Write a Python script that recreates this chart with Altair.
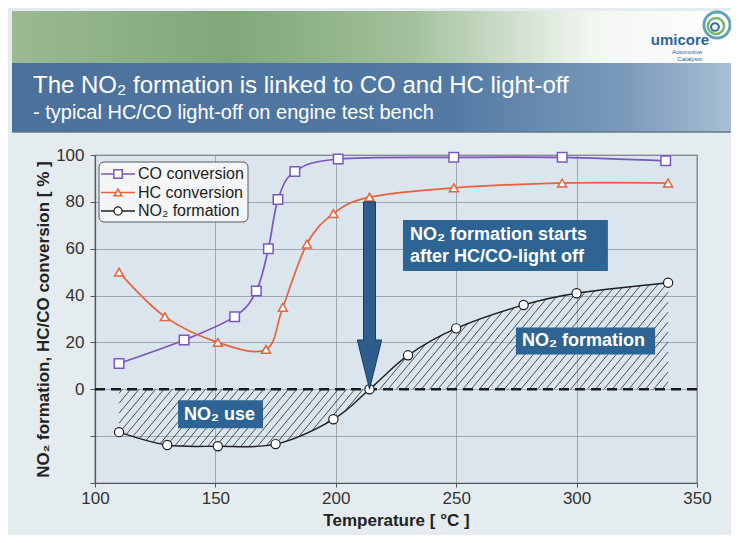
import numpy as np
import pandas as pd
import altair as alt

# ---------------- data ----------------
temp_co = [110, 137, 158, 167, 172, 176, 183, 201, 249, 294, 337]
co_conversion = [11, 21, 31, 42, 60, 81, 93, 98.3, 99, 99, 97.5]

temp_hc = [110, 129, 151, 171, 178, 188, 199, 214, 249, 294, 338]
hc_conversion = [50, 31, 20, 17, 35, 62, 75, 82, 86, 88, 88]

temp_no2 = [110, 130, 151, 175, 199, 214, 230, 250, 278, 300, 338]
no2_formation = [-18.3, -23.8, -24.3, -23.4, -12.8, 0, 14.5, 26, 36, 41, 45.5]

x_ticks = [100, 150, 200, 250, 300, 350]
y_ticks = [-40, -20, 0, 20, 40, 60, 80, 100]

legend_labels = ["CO conversion", "HC conversion", "NO₂ formation"]
title_text = "The NO₂ formation is linked to CO and HC light-off"
subtitle_text = "- typical HC/CO light-off on engine test bench"
x_title = "Temperature [ °C ]"
y_title = "NO₂ formation, HC/CO conversion [ % ]"

# ---------------- styling / layout ----------------
FONT = "Liberation Sans"
CO_C = "#7b57bd"
HC_C = "#e8623a"
NO2_C = "#1e1e1e"
BOX_C = "#2d6493"
W, H = 602, 328

one = pd.DataFrame({"k": [0]})

xs_scale = alt.Scale(domain=[x_ticks[0], x_ticks[-1]], nice=False, zero=False)
ys_scale = alt.Scale(domain=[y_ticks[0], y_ticks[-1]], nice=False, zero=False)
x_axis = alt.Axis(values=x_ticks, title=x_title, grid=True, gridColor="#8e98a2", gridWidth=0.8,
                  domainColor="#555", domainWidth=1.2, tickColor="#555", tickSize=4,
                  labelFont=FONT, labelFontSize=17, labelColor="#333", labelPadding=3,
                  labelFlush=False, labelOverlap=False, titleFont=FONT, titleFontSize=17,
                  titleFontWeight="bold", titleColor="#222", titlePadding=6)
y_axis = alt.Axis(values=y_ticks, title=y_title, grid=True, gridColor="#8e98a2", gridWidth=0.8,
                  domainColor="#555", domainWidth=1.2, tickColor="#555", tickSize=5,
                  labelExpr="datum.value >= 0 ? datum.label : ''",
                  labelFont=FONT, labelFontSize=17, labelColor="#333", labelPadding=6,
                  labelFlush=False, labelOverlap=False, titleFont=FONT, titleFontSize=17,
                  titleFontWeight="bold", titleColor="#222", titlePadding=3)


def X(f):
    return alt.X(f, type="quantitative", scale=xs_scale, axis=x_axis)


def Y(f):
    return alt.Y(f, type="quantitative", scale=ys_scale, axis=y_axis)


# ---------------- hatch between the NO2 curve and zero ----------------
def cardinal_curve(xs, ys, steps=60):
    P = np.column_stack([xs, ys]).astype(float)
    m = len(P)
    pts = [P[0]]
    t = np.linspace(0, 1, steps)[1:, None]
    for i in range(m - 1):
        a, b = P[i], P[i + 1]
        c1 = a + (b - P[i - 1]) / 6 if i > 0 else a
        c2 = b - (P[i + 2] - a) / 6 if i + 2 < m else b
        seg = (1 - t) ** 3 * a + 3 * (1 - t) ** 2 * t * c1 + 3 * (1 - t) * t ** 2 * c2 + t ** 3 * b
        pts.extend(seg)
    pts = np.array(pts)
    return pts[:, 0], pts[:, 1]


cx, cy = cardinal_curve(temp_no2, no2_formation)
px_x = W / (x_ticks[-1] - x_ticks[0])
px_y = H / (y_ticks[-1] - y_ticks[0])
slope = 1.2 * px_x / px_y
step = 8.3 / px_x
xl, xr = temp_no2[0], temp_no2[-1]
xc = temp_no2[no2_formation.index(0)]
rows = []
for x0 in np.arange(xl + step * 0.4, xr, step):
    if x0 < xc:
        xs = np.linspace(x0, xl, 800)
        d = slope * (xs - x0) - np.interp(xs, cx, cy)
    else:
        xs = np.linspace(x0, xr, 800)
        d = np.interp(xs, cx, cy) - slope * (xs - x0)
    idx = np.where(d <= 0)[0]
    idx = idx[idx > 0]
    if len(idx):
        k = idx[0]
        tt = d[k - 1] / (d[k - 1] - d[k])
        xe = xs[k - 1] + tt * (xs[k] - xs[k - 1])
    else:
        xe = xs[-1]
    rows.append({"hx": x0, "hy": 0.0, "hx2": xe, "hy2": slope * (xe - x0)})
hatch_df = pd.DataFrame(rows)

hatch = alt.Chart(hatch_df).mark_rule(color="#2a2a2a", strokeWidth=0.8).encode(
    x=X("hx"), y=Y("hy"), x2=alt.X2("hx2"), y2=alt.Y2("hy2"))

zero_line = alt.Chart(pd.DataFrame({"z": [0]})).mark_rule(
    color="#1a1a1a", strokeWidth=2.6, strokeDash=[10, 6]).encode(y=Y("z"))

# ---------------- series ----------------
co_df = pd.DataFrame({"t": temp_co, "v": co_conversion})
hc_df = pd.DataFrame({"t": temp_hc, "v": hc_conversion})
no2_df = pd.DataFrame({"t": temp_no2, "v": no2_formation})

co_line = alt.Chart(co_df).mark_line(color=CO_C, strokeWidth=1.7, interpolate="cardinal").encode(x=X("t"), y=Y("v"))
hc_line = alt.Chart(hc_df).mark_line(color=HC_C, strokeWidth=1.7, interpolate="cardinal").encode(x=X("t"), y=Y("v"))
no2_line = alt.Chart(no2_df).mark_line(color=NO2_C, strokeWidth=1.4, interpolate="cardinal").encode(x=X("t"), y=Y("v"))

co_pts = alt.Chart(co_df).mark_point(shape="square", size=90, filled=True, fill="white", stroke=CO_C,
                                     strokeWidth=1.5, opacity=1).encode(x=X("t"), y=Y("v"))
hc_pts = alt.Chart(hc_df).mark_point(shape="triangle-up", size=80, filled=True, fill="white", stroke=HC_C,
                                     strokeWidth=1.5, opacity=1).encode(x=X("t"), y=Y("v"))
no2_pts = alt.Chart(no2_df).mark_point(shape="circle", size=85, filled=True, fill="white", stroke=NO2_C,
                                       strokeWidth=1.2, opacity=1).encode(x=X("t"), y=Y("v"))

# ---------------- arrow and annotation boxes ----------------
arrow = alt.Chart(pd.DataFrame({"t": [214], "v": [40]})).mark_point(
    shape="M-0.064,-1L0.064,-1L0.064,0.474L0.13,0.474L0,1L-0.13,0.474L-0.064,0.474Z",
    size=35120, filled=True, fill="#2c5d8c", stroke="#1b3d60", strokeWidth=1, opacity=1
).encode(x=X("t"), y=Y("v"))

box_df = pd.DataFrame({"bx": [227.9, 274.8, 134.5], "bx2": [313.0, 332.6, 169.8],
                       "by": [72.3, 26.4, -4.7], "by2": [50.5, 14.9, -16.6]})
boxes = alt.Chart(box_df).mark_rect(fill=BOX_C, opacity=1).encode(
    x=X("bx"), x2=alt.X2("bx2"), y=Y("by"), y2=alt.Y2("by2"))

ann_df = pd.DataFrame({"tx": [230.8, 230.8, 277.3, 137.0], "ty": [65.9, 56.6, 20.4, -10.9],
                       "label": ["NO₂ formation starts", "after HC/CO-light off", "NO₂ formation", "NO₂ use"]})
ann_text = alt.Chart(ann_df).mark_text(align="left", baseline="middle", font=FONT, fontSize=18,
                                       fontWeight="bold", color="white").encode(
    x=X("tx"), y=Y("ty"), text="label:N")

# ---------------- legend (drawn) ----------------
leg = [alt.Chart(one).mark_rect(fill="#f4f6f8", stroke="#555", strokeWidth=1, cornerRadius=5, opacity=0.97).encode(
    x=alt.value(4), x2=alt.value(153), y=alt.value(7), y2=alt.value(67))]
leg_specs = [(CO_C, "square", 70, 1.5), (HC_C, "triangle-up", 60, 1.5), (NO2_C, "circle", 65, 1.2)]
for i, (lab, (c, shp, sz, sw)) in enumerate(zip(legend_labels, leg_specs)):
    yy = 19 + i * 18.5
    leg.append(alt.Chart(one).mark_rule(color=c, strokeWidth=1.6).encode(
        x=alt.value(6), x2=alt.value(40), y=alt.value(yy)))
    leg.append(alt.Chart(one).mark_point(shape=shp, size=sz, filled=True, fill="white", stroke=c,
                                         strokeWidth=sw, opacity=1).encode(x=alt.value(23), y=alt.value(yy)))
    leg.append(alt.Chart(one).mark_text(align="left", baseline="middle", font=FONT, fontSize=16,
                                        color="#1e1e1e").encode(x=alt.value(43), y=alt.value(yy),
                                                                text=alt.value(lab)))

# ---------------- slide decoration ----------------
green = alt.LinearGradient(gradient="linear", x1=0, x2=1, y1=0, y2=0, stops=[
    alt.GradientStop(offset=0, color="#9bb994"), alt.GradientStop(offset=0.3, color="#80a77a"),
    alt.GradientStop(offset=0.55, color="#a2c09c"), alt.GradientStop(offset=0.8, color="#f2f6f1"),
    alt.GradientStop(offset=1, color="#ffffff")])
blue = alt.LinearGradient(gradient="linear", x1=0, x2=1, y1=0, y2=0, stops=[
    alt.GradientStop(offset=0, color="#4a719b"), alt.GradientStop(offset=0.6, color="#5279a3"),
    alt.GradientStop(offset=0.85, color="#7c9bbb"), alt.GradientStop(offset=1, color="#a9bfd4")])

deco = [
    alt.Chart(one).mark_rect(fill=green).encode(x=alt.value(-83), x2=alt.value(640), y=alt.value(-144), y2=alt.value(-92)),
    alt.Chart(one).mark_rect(fill=blue).encode(x=alt.value(-83), x2=alt.value(640), y=alt.value(-92), y2=alt.value(-23)),
    alt.Chart(one).mark_rule(color="#66768a", strokeWidth=1.5).encode(x=alt.value(-83), x2=alt.value(640), y=alt.value(-23)),
    alt.Chart(one).mark_text(align="left", baseline="alphabetic", font=FONT, fontSize=24, color="white").encode(
        x=alt.value(-62), y=alt.value(-62), text=alt.value(title_text)),
    alt.Chart(one).mark_text(align="left", baseline="alphabetic", font=FONT, fontSize=20, color="white").encode(
        x=alt.value(-62), y=alt.value(-36), text=alt.value(subtitle_text)),
    alt.Chart(one).mark_point(shape="circle", size=680, filled=False, stroke="#5fa3b5", strokeWidth=3, opacity=1).encode(
        x=alt.value(622), y=alt.value(-130)),
    alt.Chart(one).mark_point(shape="circle", size=260, filled=False, stroke="#7db46e", strokeWidth=2.5, opacity=1).encode(
        x=alt.value(621), y=alt.value(-129)),
    alt.Chart(one).mark_point(shape="circle", size=60, filled=False, stroke="#2f6ea5", strokeWidth=2, opacity=1).encode(
        x=alt.value(620), y=alt.value(-128)),
    alt.Chart(one).mark_text(align="center", baseline="alphabetic", font=FONT, fontSize=15, fontWeight="bold",
                             color="#2c64a0").encode(x=alt.value(585), y=alt.value(-110), text=alt.value("umicore")),
    alt.Chart(one).mark_text(align="right", baseline="alphabetic", font=FONT, fontSize=6,
                             color="#2c64a0").encode(x=alt.value(607), y=alt.value(-101), text=alt.value("Automotive")),
    alt.Chart(one).mark_text(align="right", baseline="alphabetic", font=FONT, fontSize=6,
                             color="#2c64a0").encode(x=alt.value(607), y=alt.value(-94), text=alt.value("Catalysts")),
]

chart = alt.layer(
    *deco, hatch, zero_line,
    co_line, hc_line, no2_line, co_pts, hc_pts, no2_pts,
    arrow, boxes, ann_text, *leg
).properties(
    width=W, height=H,
    padding={"left": 87, "top": 147, "right": 34, "bottom": 52},
    autosize=alt.AutoSizeParams(type="none"),
    background="#e5ecf0",
).configure_view(fill="#dbe5ed", stroke="#555", strokeWidth=1.2)

chart.save("out.html", embed_options={"renderer": "svg", "actions": False})
